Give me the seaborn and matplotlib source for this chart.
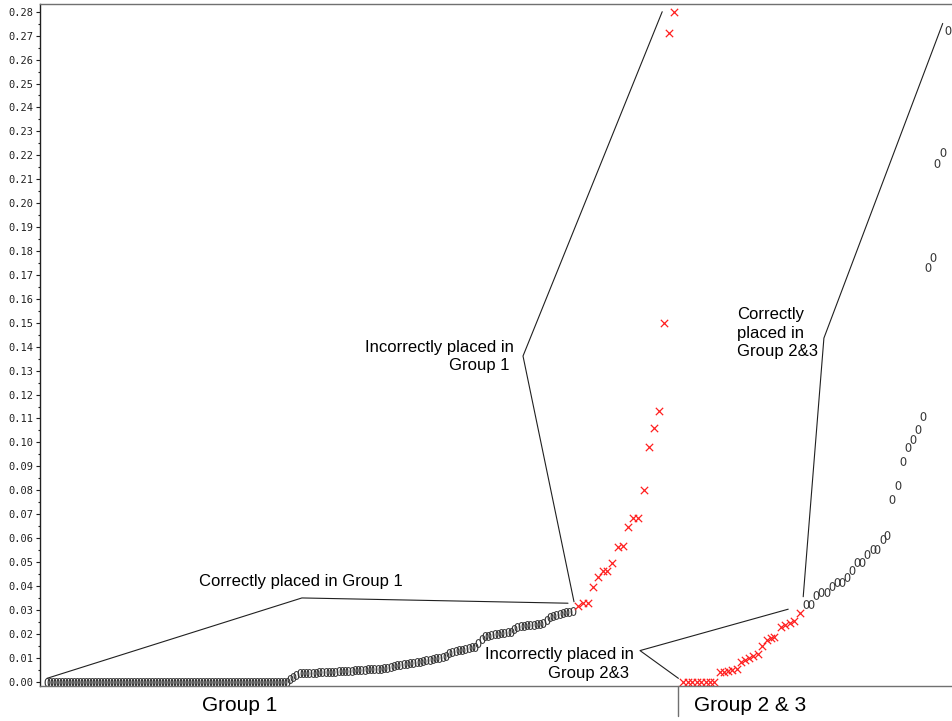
import numpy as np
import pandas as pd
import matplotlib
matplotlib.use("Agg")
import matplotlib.pyplot as plt
import matplotlib.transforms as mtransforms
import seaborn as sns

# --- datos (x = rango de la observacion, y = valor) ---
# Grupo 1, bien clasificados: tramo plano en cero y tramo creciente
g1_ok_flat = [0.000] * 81
g1_ok_rise = [
    0.0012, 0.0020, 0.0028, 0.0035, 0.0036, 0.0037, 0.0037, 0.0038, 0.0038, 0.0039,
    0.0040, 0.0040, 0.0041, 0.0042, 0.0042, 0.0043, 0.0044, 0.0045, 0.0045, 0.0046,
    0.0047, 0.0048, 0.0049, 0.0050, 0.0051, 0.0052, 0.0053, 0.0054, 0.0055, 0.0056,
    0.0058, 0.0063, 0.0066, 0.0068, 0.0070, 0.0072, 0.0074, 0.0077, 0.0079, 0.0082,
    0.0084, 0.0087, 0.0089, 0.0092, 0.0095, 0.0098, 0.0101, 0.0104, 0.0108, 0.0118,
    0.0125, 0.0128, 0.0131, 0.0134, 0.0137, 0.0140, 0.0143, 0.0147, 0.0160, 0.0180,
    0.0190, 0.0193, 0.0196, 0.0198, 0.0200, 0.0202, 0.0204, 0.0206, 0.0209, 0.0220,
    0.0228, 0.0231, 0.0233, 0.0235, 0.0237, 0.0239, 0.0241, 0.0243, 0.0246, 0.0258,
    0.0270, 0.0276, 0.0280, 0.0284, 0.0287, 0.0290, 0.0293, 0.0296,
]
g1_ok_rank = np.concatenate([np.arange(81) + 2.3, np.arange(88) * 1.083 + 83.3])

# Grupo 1, mal clasificados
g1_bad_rank = [179.4, 181.1, 182.8, 184.2, 185.9, 187.6, 189.1, 190.8, 192.8, 194.2,
               195.9, 197.8, 199.4, 201.3, 202.9, 204.6, 206.3, 208.0, 209.7, 211.4]
g1_bad_val = [0.0316, 0.0328, 0.0328, 0.0394, 0.0439, 0.0464, 0.0464, 0.0497, 0.0562, 0.0567,
              0.0648, 0.0685, 0.0685, 0.0801, 0.0982, 0.1059, 0.1133, 0.1500, 0.2710, 0.2800]

# Grupo 2 & 3, mal clasificados
g23_bad_rank = [214.4, 215.9, 217.4, 218.9, 220.3, 221.9, 223.3, 224.8,
                226.7, 228.1, 229.4, 230.8, 232.2, 233.6, 235.0, 236.3, 237.8, 239.2,
                240.8, 242.2, 243.5, 244.8, 247.0, 248.3, 250.0, 251.4, 253.3]
g23_bad_val = [0.0, 0.0, 0.0, 0.0, 0.0, 0.0, 0.0, 0.0,
               0.0042, 0.0042, 0.0046, 0.0049, 0.0052, 0.0084, 0.0091, 0.0098, 0.0107, 0.0116,
               0.0149, 0.0174, 0.0181, 0.0186, 0.0227, 0.0237, 0.0247, 0.0255, 0.0286]

# Grupo 2 & 3, bien clasificados
g23_ok_rank = [255.3, 257.0, 258.7, 260.2, 262.2, 263.9, 265.6, 267.2, 268.9, 270.6,
               272.4, 273.9, 275.8, 277.6, 279.1, 280.9, 282.4, 284.1, 285.9, 287.6,
               289.2, 291.1, 292.6, 294.2, 296.1, 297.8, 299.1, 300.9, 302.8]
g23_ok_val = [0.0325, 0.0325, 0.0362, 0.0376, 0.0376, 0.0401, 0.0418, 0.0418, 0.0436, 0.0467,
              0.0501, 0.0501, 0.0534, 0.0553, 0.0553, 0.0596, 0.0613, 0.0764, 0.0822, 0.0922,
              0.0982, 0.1013, 0.1056, 0.1111, 0.1732, 0.1774, 0.2166, 0.2215, 0.2723]

group_labels = ["Group 1", "Group 2 & 3"]
yticks = np.round(np.arange(0, 0.281, 0.01), 2)

sns.set_style("white")
plt.rcParams["font.family"] = ["Liberation Sans", "DejaVu Sans"]
plt.rcParams["text.color"] = "black"

fig = plt.figure(figsize=(9.53, 7.21), dpi=100)
ax = fig.add_axes([40 / 953, 1 - 686 / 721, 1 - 40 / 953, (686 - 4.3) / 721])

ok = pd.DataFrame({"rank": np.concatenate([g1_ok_rank, g23_ok_rank]),
                   "val": g1_ok_flat + g1_ok_rise + g23_ok_val})
bad = pd.DataFrame({"rank": g1_bad_rank + g23_bad_rank,
                    "val": g1_bad_val + g23_bad_val})

sns.scatterplot(data=ok, x="rank", y="val", marker=r"$\mathsf{0}$", s=40, color="#303030",
                linewidth=0, ax=ax, clip_on=False)
sns.scatterplot(data=bad, x="rank", y="val", marker="x", s=28, color="#ff2020",
                linewidth=0.9, ax=ax, clip_on=False)

# lineas de las anotaciones
callouts = [
    ([2.33, 87.3, 176.0], [0.0014, 0.0350, 0.0328]),
    ([178.0, 161.0, 207.4], [0.0334, 0.1361, 0.2800]),
    ([254.4, 261.3, 300.9], [0.0355, 0.1436, 0.2751]),
    ([249.4, 200.0, 212.8], [0.0303, 0.0130, 0.0014]),
]
for xs, ys in callouts:
    ax.plot(xs, ys, color="#202020", lw=0.8)

fs = 12
ax.text(53, 0.0417, "Correctly placed in Group 1", fontsize=fs, ha="left", va="center")
ax.text(158, 0.1359, "Incorrectly placed in\nGroup 1 ", fontsize=fs, ha="right",
        va="center", multialignment="right", linespacing=1.3)
ax.text(232.3, 0.1457, "Correctly\nplaced in\nGroup 2&3", fontsize=fs, ha="left",
        va="center", multialignment="left", linespacing=1.3)
ax.text(198, 0.0074, "Incorrectly placed in\nGroup 2&3 ", fontsize=fs, ha="right",
        va="center", multialignment="right", linespacing=1.3)

ax.set_xlim(0, 304.33)
ax.set_ylim(-0.0018, 0.2831)
ax.set_xticks([])
ax.set_yticks(yticks)
ax.set_yticklabels([f"{v:.2f}" for v in yticks], family="DejaVu Sans Mono",
                   fontsize=7.5, color="#202020")
ax.set_yticks(np.arange(0.005, 0.28, 0.01), minor=True)
ax.tick_params(axis="y", which="major", direction="out", length=3, width=0.8,
               pad=2, left=True, color="#202020")
ax.tick_params(axis="y", which="minor", direction="out", length=1.2, width=0.8,
               left=True, color="#202020")
ax.set_xlabel("")
ax.set_ylabel("")

ax.spines["right"].set_visible(False)
ax.spines["left"].set_color("#202020")
ax.spines["top"].set_color("#707070")
ax.spines["bottom"].set_color("#707070")
for s in ["left", "top", "bottom"]:
    ax.spines[s].set_linewidth(1.0)

# etiquetas de grupo bajo el eje
trans = mtransforms.blended_transform_factory(ax.transData, ax.transAxes)
ax.plot([212.7, 212.7], [0, -0.044], color="#707070", lw=1.0, transform=trans, clip_on=False)
ax.text(66.7, -0.028, group_labels[0], fontsize=15, ha="center", va="center", transform=trans)
ax.text(236.7, -0.028, group_labels[1], fontsize=15, ha="center", va="center", transform=trans)

fig.savefig("out.png", dpi=100)
